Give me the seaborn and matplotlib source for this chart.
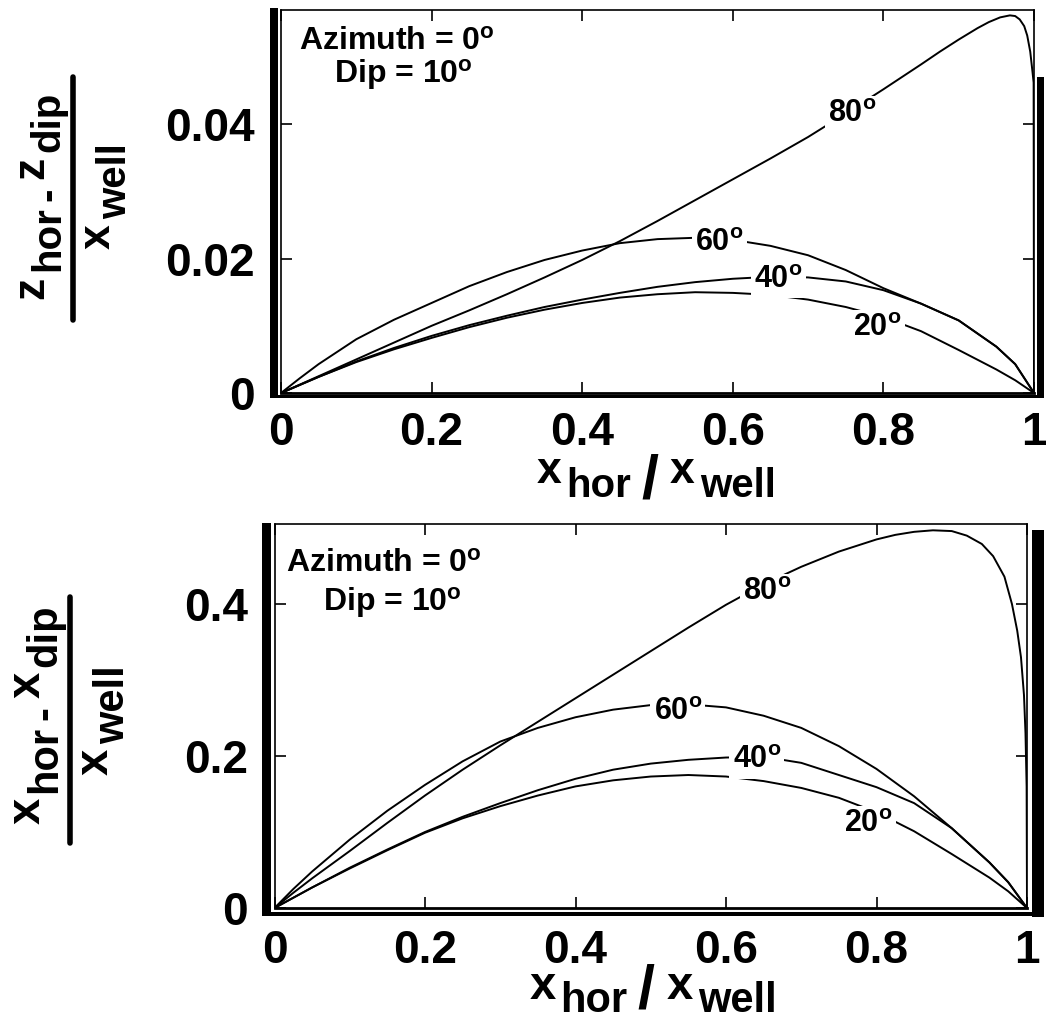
import numpy as np
import pandas as pd
import matplotlib
matplotlib.use("Agg")
import matplotlib.pyplot as plt
import seaborn as sns
from matplotlib.transforms import IdentityTransform
from matplotlib.patches import Rectangle
from matplotlib.lines import Line2D

# ---------------- data ----------------
angles = ["20", "40", "60", "80"]

# top panel: (z_hor - z_dip) / x_well  vs  x_hor / x_well
z20_x = [0, 0.05, 0.1, 0.15, 0.2, 0.25, 0.3, 0.35, 0.4, 0.45, 0.5, 0.55, 0.6, 0.65, 0.7, 0.75,
         0.8, 0.85, 0.9, 0.95, 0.975, 1.0]
z20_y = [0, 0.0024, 0.0046, 0.0065, 0.0082, 0.0098, 0.0112, 0.0124, 0.0134, 0.0142, 0.0147,
         0.0150, 0.0149, 0.0146, 0.0139, 0.0128, 0.0113, 0.0092, 0.0064, 0.0035, 0.0019, 0]
z40_x = [0, 0.05, 0.1, 0.15, 0.2, 0.25, 0.3, 0.35, 0.4, 0.45, 0.5, 0.55, 0.6, 0.65, 0.7, 0.75,
         0.8, 0.85, 0.9, 0.95, 0.975, 1.0]
z40_y = [0, 0.0024, 0.0047, 0.0067, 0.0085, 0.0101, 0.0115, 0.0128, 0.0139, 0.0149, 0.0158,
         0.0165, 0.0170, 0.0173, 0.0172, 0.0166, 0.0153, 0.0133, 0.0108, 0.0069, 0.0043, 0]
z60_x = [0, 0.025, 0.05, 0.1, 0.15, 0.2, 0.25, 0.3, 0.35, 0.4, 0.45, 0.5, 0.55, 0.6, 0.65, 0.7,
         0.75, 0.8, 0.85, 0.9, 0.95, 0.975, 1.0]
z60_y = [0, 0.0022, 0.0043, 0.0080, 0.0109, 0.0134, 0.0159, 0.0180, 0.0198, 0.0212, 0.0223,
         0.0229, 0.0231, 0.0228, 0.0219, 0.0205, 0.0183, 0.0156, 0.0133, 0.0108, 0.0069, 0.0043, 0]
z80_x = [0, 0.05, 0.1, 0.15, 0.2, 0.25, 0.3, 0.35, 0.4, 0.45, 0.5, 0.55, 0.6, 0.65, 0.7, 0.75,
         0.8, 0.85, 0.875, 0.9, 0.925, 0.94, 0.955, 0.968, 0.975, 0.981, 0.987, 0.991, 0.995,
         0.998, 0.9995, 1.0]
z80_y = [0, 0.0025, 0.0050, 0.0075, 0.0100, 0.0123, 0.0147, 0.0172, 0.0198, 0.0226, 0.0256,
         0.0287, 0.0318, 0.0349, 0.0381, 0.0416, 0.0452, 0.0489, 0.0508, 0.0526, 0.0543, 0.0552,
         0.0559, 0.0562, 0.0561, 0.0556, 0.0546, 0.0532, 0.0508, 0.0478, 0.0462, 0]

# bottom panel: (x_hor - x_dip) / x_well  vs  x_hor / x_well
x20_x = [0, 0.05, 0.1, 0.15, 0.2, 0.25, 0.3, 0.35, 0.4, 0.45, 0.5, 0.55, 0.6, 0.65, 0.7, 0.75,
         0.8, 0.85, 0.9, 0.95, 0.975, 1.0]
x20_y = [0, 0.027, 0.052, 0.076, 0.099, 0.118, 0.134, 0.148, 0.160, 0.168, 0.173, 0.175, 0.173,
         0.167, 0.158, 0.145, 0.126, 0.101, 0.071, 0.040, 0.022, 0]
x40_x = [0, 0.05, 0.1, 0.15, 0.2, 0.25, 0.3, 0.35, 0.4, 0.45, 0.5, 0.55, 0.6, 0.65, 0.7, 0.75,
         0.8, 0.85, 0.9, 0.95, 0.975, 1.0]
x40_y = [0, 0.027, 0.053, 0.077, 0.100, 0.120, 0.138, 0.155, 0.170, 0.182, 0.190, 0.195, 0.198,
         0.199, 0.191, 0.175, 0.159, 0.138, 0.105, 0.060, 0.034, 0]
x60_x = [0, 0.025, 0.05, 0.1, 0.15, 0.2, 0.25, 0.3, 0.35, 0.4, 0.45, 0.5, 0.55, 0.6, 0.65, 0.7,
         0.75, 0.8, 0.85, 0.9, 0.95, 0.975, 1.0]
x60_y = [0, 0.025, 0.048, 0.090, 0.128, 0.162, 0.193, 0.219, 0.237, 0.251, 0.261, 0.267, 0.268,
         0.264, 0.253, 0.237, 0.213, 0.183, 0.147, 0.105, 0.060, 0.034, 0]
x80_x = [0, 0.025, 0.05, 0.1, 0.15, 0.2, 0.25, 0.3, 0.35, 0.4, 0.45, 0.5, 0.55, 0.6, 0.65, 0.7,
         0.75, 0.8, 0.825, 0.85, 0.875, 0.9, 0.92, 0.94, 0.955, 0.97, 0.98, 0.987, 0.992, 0.996,
         0.998, 0.9995, 1.0]
x80_y = [0, 0.020, 0.039, 0.075, 0.112, 0.148, 0.182, 0.214, 0.245, 0.276, 0.307, 0.338, 0.369,
         0.399, 0.426, 0.449, 0.469, 0.485, 0.491, 0.495, 0.497, 0.496, 0.490, 0.479, 0.463,
         0.436, 0.400, 0.365, 0.330, 0.280, 0.230, 0.160, 0]

x_ticks = [0, 0.2, 0.4, 0.6, 0.8, 1.0]
x_ticklabels = ["0", "0.2", "0.4", "0.6", "0.8", "1"]
top_yticks = [0, 0.02, 0.04]
top_yticklabels = ["0", "0.02", "0.04"]
bot_yticks = [0, 0.2, 0.4]
bot_yticklabels = ["0", "0.2", "0.4"]

# curve label positions (x, baseline y) in data units
top_label_pos = {"20": (0.792, 0.0085), "40": (0.661, 0.0157), "60": (0.582, 0.0212), "80": (0.759, 0.0403)}
bot_label_pos = {"20": (0.789, 0.100), "40": (0.641, 0.184), "60": (0.536, 0.247), "80": (0.655, 0.405)}

annot_line1 = "Azimuth = 0$^{o}$"
annot_line2 = "Dip = 10$^{o}$"

# ---------------- style ----------------
sns.set_style("ticks")
FONT = ["Liberation Sans", "DejaVu Sans"]
plt.rcParams["font.family"] = FONT
plt.rcParams["font.weight"] = "bold"
plt.rcParams["text.color"] = "black"
plt.rcParams["axes.labelcolor"] = "black"
plt.rcParams["xtick.color"] = "black"
plt.rcParams["ytick.color"] = "black"
plt.rcParams["mathtext.fontset"] = "custom"
plt.rcParams["mathtext.rm"] = "Liberation Sans:bold"
plt.rcParams["mathtext.it"] = "Liberation Sans:bold"
plt.rcParams["mathtext.bf"] = "Liberation Sans:bold"

W, H = 1046, 1022
fig = plt.figure(figsize=(W / 100, H / 100), dpi=100)
fig.patch.set_facecolor("white")

ax1 = fig.add_axes([281 / W, (H - 393) / H, 753 / W, 383 / H])
ax2 = fig.add_axes([274.5 / W, (H - 908) / H, 752.5 / W, 384 / H])


def make_df(xs_list, ys_list):
    frames = []
    for a, xs, ys in zip(angles, xs_list, ys_list):
        frames.append(pd.DataFrame({"x": xs, "y": ys, "angle": a}))
    return pd.concat(frames, ignore_index=True)


df_top = make_df([z20_x, z40_x, z60_x, z80_x], [z20_y, z40_y, z60_y, z80_y])
df_bot = make_df([x20_x, x40_x, x60_x, x80_x], [x20_y, x40_y, x60_y, x80_y])

pal = {a: "black" for a in angles}
for ax, df in [(ax1, df_top), (ax2, df_bot)]:
    sns.lineplot(data=df, x="x", y="y", hue="angle", palette=pal, estimator=None,
                 sort=False, legend=False, lw=1.4, ax=ax)

ax1.set_xlim(0, 1)
ax1.set_ylim(0, 0.057)
ax2.set_xlim(0, 1)
ax2.set_ylim(0, 0.5053)

for ax, yt, ytl, xpad in [(ax1, top_yticks, top_yticklabels, 13), (ax2, bot_yticks, bot_yticklabels, 15)]:
    ax.set_xticks(x_ticks)
    ax.set_xticklabels(x_ticklabels)
    ax.set_yticks(yt)
    ax.set_yticklabels(ytl)
    ax.set_xlabel("")
    ax.set_ylabel("")
    ax.tick_params(axis="both", direction="in", length=8, width=1.2, colors="black",
                   top=True, right=True, labelsize=33)
    ax.tick_params(axis="x", pad=xpad)
    ax.tick_params(axis="y", pad=19)
    for lab in ax.get_xticklabels() + ax.get_yticklabels():
        lab.set_fontweight("bold")
        lab.set_color("black")
    for s in ax.spines.values():
        s.set_linewidth(1.2)
        s.set_color("black")
    ax.spines["bottom"].set_linewidth(2.0)
    ax.set_facecolor("white")

# thick outer bars (scan-like frame)
bars_top = [(-0.0146, -0.013, 0.0106, 1.018), (1.004, -0.013, 0.0093, 0.838), (-0.0146, -0.013, 1.025, 0.009)]
bars_bot = [(-0.0166, -0.021, 0.0119, 1.024), (1.0066, -0.023, 0.016, 1.007), (-0.0166, -0.0208, 1.039, 0.0104)]
for ax, bars in [(ax1, bars_top), (ax2, bars_bot)]:
    for (x0, y0, w, h) in bars:
        ax.add_patch(Rectangle((x0, y0), w, h, transform=ax.transAxes, clip_on=False,
                               facecolor="black", edgecolor="none", zorder=6))

# curve labels with white background to break the lines
for ax, pos in [(ax1, top_label_pos), (ax2, bot_label_pos)]:
    for a in angles:
        x, y = pos[a]
        ax.text(x, y, a + "$^{o}$", ha="center", va="baseline", fontsize=22, fontweight="bold",
                color="black", bbox=dict(facecolor="white", edgecolor="none", pad=2.5), zorder=5)

# annotation
for ax, p1, p2 in [(ax1, (0.154, 0.8956), (0.162, 0.809)), (ax2, (0.145, 0.875), (0.157, 0.7734))]:
    ax.text(p1[0], p1[1], annot_line1, transform=ax.transAxes, ha="center", va="baseline",
            fontsize=23, fontweight="bold", color="black")
    ax.text(p2[0], p2[1], annot_line2, transform=ax.transAxes, ha="center", va="baseline",
            fontsize=23, fontweight="bold", color="black")

# ---------------- composite labels built from pieces ----------------
renderer = fig.canvas.get_renderer()


def place_pieces(pieces, center, baseline, rotation=0):
    """pieces: (text, size, drop_px, gap_after_px). Display pixel coordinates."""
    items = []
    pos = 0.0
    last_gap = 0
    for s, size, drop, gap in pieces:
        t = fig.text(0, 0, s, fontsize=size, fontweight="bold", family=FONT, color="black",
                     transform=IdentityTransform(), ha="left", va="baseline",
                     rotation=rotation, rotation_mode="anchor")
        bb = t.get_window_extent(renderer)
        w = bb.width if rotation == 0 else bb.height
        items.append((t, pos, drop))
        pos += w + gap
        last_gap = gap
    total = pos - last_gap
    for t, p, drop in items:
        if rotation == 0:
            t.set_position((center - total / 2 + p, baseline - drop))
        else:
            t.set_position((baseline + drop, center - total / 2 + p))


# x labels
place_pieces([("x", 32, 0, 5), ("hor", 29, 14, 10), ("/", 44, 14, 12), ("x", 32, 0, 5), ("well", 29, 14, 0)],
             center=656, baseline=H - 483)
place_pieces([("x", 34, 0, 5), ("hor", 30, 13, 10), ("/", 44, 8, 12), ("x", 34, 0, 5), ("well", 30, 13, 0)],
             center=653, baseline=H - 999)

# y labels (fractions)
place_pieces([("z", 32, 0, 5), ("hor", 29, 16, 6), ("-", 29, 16, 8), ("z", 32, 0, 5), ("dip", 29, 16, 0)],
             center=H - 195, baseline=43, rotation=90)
place_pieces([("x", 32, 0, 5), ("well", 29, 16, 0)], center=H - 196, baseline=110, rotation=90)
fig.add_artist(Line2D([73, 73], [H - 77, H - 320], transform=IdentityTransform(), color="black", lw=4))

place_pieces([("x", 34, 0, 5), ("hor", 30, 16, 6), ("-", 30, 16, 8), ("x", 34, 0, 5), ("dip", 30, 16, 0)],
             center=H - 714, baseline=40, rotation=90)
place_pieces([("x", 34, 0, 5), ("well", 30, 16, 0)], center=H - 720, baseline=108, rotation=90)
fig.add_artist(Line2D([70, 70], [H - 597, H - 843], transform=IdentityTransform(), color="black", lw=4))

fig.savefig("out.png", dpi=100, facecolor="white")
